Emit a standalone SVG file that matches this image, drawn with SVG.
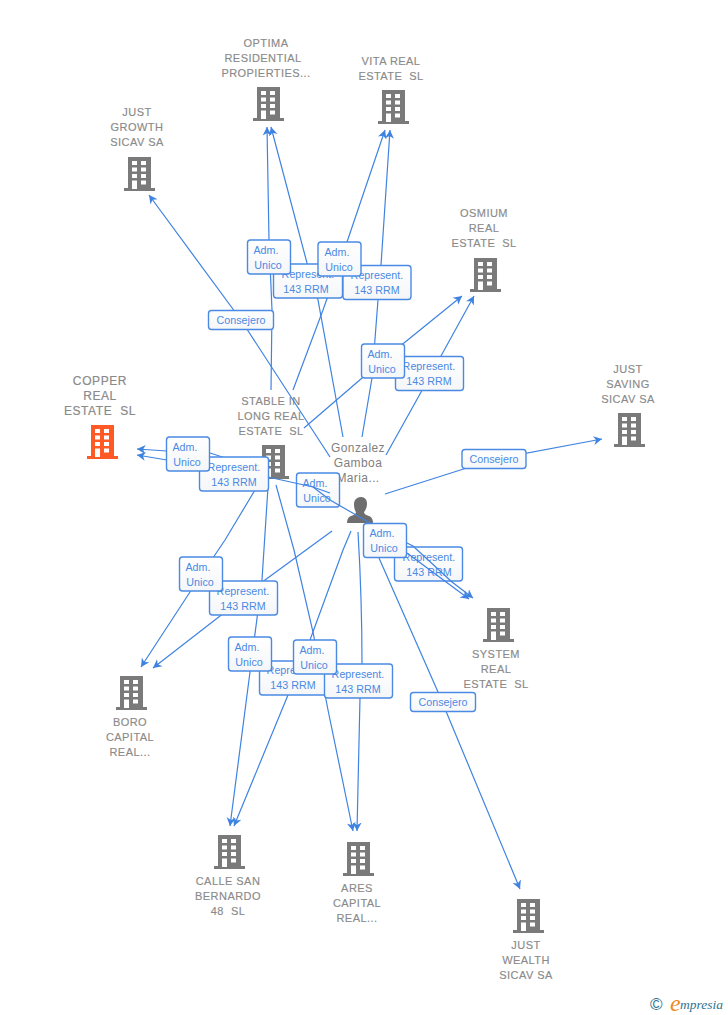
<svg xmlns="http://www.w3.org/2000/svg" width="728" height="1015" viewBox="0 0 728 1015">
<style>
text{font-family:"Liberation Sans",Arial,sans-serif;white-space:pre}
.n{font-size:11px;letter-spacing:.45px;fill:#8a8a8a;text-anchor:middle;stroke:#8a8a8a;stroke-width:.15}
.c{font-size:12px;letter-spacing:.6px;fill:#8a8a8a;text-anchor:middle;stroke:#8a8a8a;stroke-width:.2}
.p{font-size:12px;letter-spacing:.4px;fill:#808080;text-anchor:middle}
.l{font-size:10.700px;letter-spacing:.05px;fill:#4a8ae4;text-anchor:middle}
.e{fill:none;stroke:#3f83e2;stroke-width:1.2}
.a{marker-end:url(#arr)}
.b{fill:url(#g);stroke:#4a8ae4;stroke-width:1.4}
</style>
<defs>
<linearGradient id="g" x1="0" y1="0" x2="0" y2="1"><stop offset="0" stop-color="#fff"/><stop offset="1" stop-color="#f5f6f8"/></linearGradient>
<marker id="arr" markerUnits="userSpaceOnUse" markerWidth="9" markerHeight="10" refX="8.500" refY="5" orient="auto"><path d="M8.500,5L0,.5L2.500,5L0,9.500Z" fill="#3f83e2"/></marker>
<path id="bld" fill-rule="evenodd" d="M4,0H27V31H31V34H0V31H4ZM8,4V8H13V4ZM17,4V8H22V4ZM8,10.500V14.500H13V10.500ZM17,10.500V14.500H22V10.500ZM8,17V21H13V17ZM17,17V21H22V17ZM8,23.500V32H13V23.500ZM17,23.500V27.500H22V23.500Z"/>
</defs>

<g id="nodes">
<g id="n-optima" fill="#7a7a7a"><use href="#bld" x="253" y="87"/><text class="n"><tspan x="266" y="47">OPTIMA</tspan><tspan x="263" y="62">RESIDENTIAL</tspan><tspan x="266" y="77">PROPIERTIES...</tspan></text></g>
<g id="n-vita" fill="#7a7a7a"><use href="#bld" x="378" y="90"/><text class="n"><tspan x="391" y="65">VITA REAL</tspan><tspan x="391" y="80">ESTATE  SL</tspan></text></g>
<g id="n-growth" fill="#7a7a7a"><use href="#bld" x="124" y="157"/><text class="n"><tspan x="137" y="116">JUST</tspan><tspan x="137" y="131">GROWTH</tspan><tspan x="137" y="146">SICAV SA</tspan></text></g>
<g id="n-osmium" fill="#7a7a7a"><use href="#bld" x="470" y="258"/><text class="n"><tspan x="484" y="217">OSMIUM</tspan><tspan x="484" y="232">REAL</tspan><tspan x="484" y="247">ESTATE  SL</tspan></text></g>
<g id="n-saving" fill="#7a7a7a"><use href="#bld" x="614" y="413"/><text class="n"><tspan x="628" y="373">JUST</tspan><tspan x="628" y="388">SAVING</tspan><tspan x="628" y="403">SICAV SA</tspan></text></g>
<g id="n-copper" fill="#ff5a26"><use href="#bld" x="87" y="425"/><text class="c"><tspan x="100" y="385">COPPER</tspan><tspan x="100" y="400">REAL</tspan><tspan x="100" y="415">ESTATE  SL</tspan></text></g>
<g id="n-stable" fill="#7a7a7a"><use href="#bld" x="258" y="445"/><text class="n"><tspan x="271" y="405">STABLE IN</tspan><tspan x="271" y="420">LONG REAL</tspan><tspan x="271" y="435">ESTATE  SL</tspan></text></g>
<g id="n-system" fill="#7a7a7a"><use href="#bld" x="483" y="608"/><text class="n"><tspan x="496" y="658">SYSTEM</tspan><tspan x="496" y="673">REAL</tspan><tspan x="496" y="688">ESTATE  SL</tspan></text></g>
<g id="n-boro" fill="#7a7a7a"><use href="#bld" x="116" y="676"/><text class="n"><tspan x="130" y="726">BORO</tspan><tspan x="130" y="741">CAPITAL</tspan><tspan x="130" y="756">REAL...</tspan></text></g>
<g id="n-calle" fill="#7a7a7a"><use href="#bld" x="214" y="835"/><text class="n"><tspan x="228" y="885">CALLE SAN</tspan><tspan x="228" y="900">BERNARDO</tspan><tspan x="228" y="915">48  SL</tspan></text></g>
<g id="n-ares" fill="#7a7a7a"><use href="#bld" x="343" y="842"/><text class="n"><tspan x="357" y="892">ARES</tspan><tspan x="357" y="907">CAPITAL</tspan><tspan x="357" y="922">REAL...</tspan></text></g>
<g id="n-wealth" fill="#7a7a7a"><use href="#bld" x="513" y="899"/><text class="n"><tspan x="526" y="949">JUST</tspan><tspan x="526" y="964">WEALTH</tspan><tspan x="526" y="979">SICAV SA</tspan></text></g>
<g id="n-person"><text class="p"><tspan x="358" y="452">Gonzalez</tspan><tspan x="358" y="467">Gamboa</tspan><tspan x="358" y="482">Maria...</tspan></text><path fill="#6e6e6e" d="M361,497C365,497 367,500 367,504C367,508 365,511 364,512C364,514 366,515 369,516C372,517 373,520 373,523H347C347,520 348,517 351,516C354,515 356,514 356,512C355,511 354,508 354,504C354,500 357,497 361,497Z"/></g>
</g>

<g id="connectors">
<path class="e a" d="M271,390L272,310L269,240L267,127"/>
<path class="e a" d="M343,437L318,300L307,263L271,127"/>
<path class="e a" d="M293,390L323,310L347,242L385,130"/>
<path class="e a" d="M362,437L372,378L378,300L381,265L390,130"/>
<path class="e a" d="M304,428L383,360L462,296"/>
<path class="e a" d="M386,455L425,385L474,296"/>
<path class="e a" d="M330,457L241,320L149,195"/>
<path class="e a" d="M385,494L495,459L602,439"/>
<path class="e a" d="M238,462L210,453L167,451L137,449"/>
<path class="e a" d="M268,477L167,460L137,455"/>
<path class="e a" d="M258,485L225,540L190,592L141,667"/>
<path class="e a" d="M332,531L265,580L220,616L153,668"/>
<path class="e a" d="M268,487L262,580L250,672L230,826"/>
<path class="e a" d="M351,531L343,550L310,640L288,695L234,826"/>
<path class="e a" d="M276,485L294,550L313,632L328,710L353,831"/>
<path class="e a" d="M358,532Q362,600 362,663L360,698L357,831"/>
<path class="e a" d="M379,558L438,692L520,889"/>
</g>

<g id="edge-labels">
<g id="r1"><rect class="b" x="273.500" y="264" width="69" height="34" rx="3"/><text class="l"><tspan x="308" y="278">Represent.</tspan><tspan x="306" y="293">143 RRM</tspan></text></g>
<g id="r2"><rect class="b" x="343" y="265.500" width="68" height="34" rx="3"/><text class="l"><tspan x="377" y="279">Represent.</tspan><tspan x="377" y="294">143 RRM</tspan></text></g>
<g id="r3"><rect class="b" x="395.500" y="356.500" width="68" height="34" rx="3"/><text class="l"><tspan x="429" y="370">Represent.</tspan><tspan x="429" y="385">143 RRM</tspan></text></g>
<g id="r4"><rect class="b" x="199.500" y="457" width="69" height="34" rx="3"/><text class="l"><tspan x="234" y="471">Represent.</tspan><tspan x="234" y="486">143 RRM</tspan></text></g>
<g id="r5"><rect class="b" x="394.500" y="547" width="68" height="34" rx="3"/><text class="l"><tspan x="429" y="561">Represent.</tspan><tspan x="429" y="576">143 RRM</tspan></text></g>
<g id="r6"><rect class="b" x="209.500" y="581" width="68" height="34" rx="3"/><text class="l"><tspan x="243" y="595">Represent.</tspan><tspan x="243" y="610">143 RRM</tspan></text></g>
<g id="r7"><rect class="b" x="259.500" y="661" width="68" height="34" rx="3"/><text class="l"><tspan x="293" y="674">Represent.</tspan><tspan x="293" y="689">143 RRM</tspan></text></g>
<g id="r8"><rect class="b" x="324.500" y="664" width="68" height="34" rx="3"/><text class="l"><tspan x="358" y="678">Represent.</tspan><tspan x="358" y="693">143 RRM</tspan></text></g>
<g id="a1"><rect class="b" x="247.500" y="240" width="43" height="34" rx="3"/><text class="l"><tspan x="266" y="254">Adm.</tspan><tspan x="268" y="269">Unico</tspan></text></g>
<g id="a2"><rect class="b" x="318" y="242" width="43" height="34" rx="3"/><text class="l"><tspan x="337" y="256">Adm.</tspan><tspan x="339" y="271">Unico</tspan></text></g>
<g id="a3"><rect class="b" x="361.500" y="344" width="43" height="34" rx="3"/><text class="l"><tspan x="380" y="358">Adm.</tspan><tspan x="382" y="373">Unico</tspan></text></g>
<g id="a4"><rect class="b" x="166.500" y="437" width="43" height="34" rx="3"/><text class="l"><tspan x="185" y="451">Adm.</tspan><tspan x="187" y="466">Unico</tspan></text></g>
<g id="a5"><rect class="b" x="296.500" y="473" width="43" height="34" rx="3"/><text class="l"><tspan x="315" y="487">Adm.</tspan><tspan x="317" y="502">Unico</tspan></text></g>
<g id="a6"><rect class="b" x="363.500" y="523.500" width="43" height="34" rx="3"/><text class="l"><tspan x="382" y="537">Adm.</tspan><tspan x="384" y="552">Unico</tspan></text></g>
<g id="a7"><rect class="b" x="179.500" y="557" width="43" height="34" rx="3"/><text class="l"><tspan x="198" y="571">Adm.</tspan><tspan x="200" y="586">Unico</tspan></text></g>
<g id="a8"><rect class="b" x="228.500" y="637" width="43" height="34" rx="3"/><text class="l"><tspan x="247" y="651">Adm.</tspan><tspan x="249" y="666">Unico</tspan></text></g>
<g id="a9"><rect class="b" x="293.500" y="640" width="43" height="34" rx="3"/><text class="l"><tspan x="312" y="654">Adm.</tspan><tspan x="314" y="669">Unico</tspan></text></g>
<g id="c1"><rect class="b" x="208.500" y="310.500" width="65" height="19" rx="3"/><text class="l" x="241" y="324">Consejero</text></g>
<g id="c2"><rect class="b" x="462" y="449.500" width="64" height="19" rx="3"/><text class="l" x="494" y="463">Consejero</text></g>
<g id="c3"><rect class="b" x="410.500" y="692.500" width="65" height="19" rx="3"/><text class="l" x="443" y="706">Consejero</text></g>
</g>

<g id="connectors-over">
<path class="e" d="M268,477L313,487L330,493"/>
<path class="e" d="M313,487L330,500L370,523"/>
<path class="e a" d="M407,543L413,546L452,582L473,598"/>
<path class="e a" d="M407,553L469,599"/>
</g>

<g id="logo">
<text x="650" y="1010" font-size="17" fill="#2f7391">©</text>
<text x="670" y="1011" font-size="24" font-style="italic" fill="#f08a1d" style="font-family:'Liberation Serif',serif">e</text>
<text x="680" y="1009" font-size="13.500" font-style="italic" fill="#2f7391" style="font-family:'Liberation Serif',serif">mpresia</text>
</g>
</svg>
